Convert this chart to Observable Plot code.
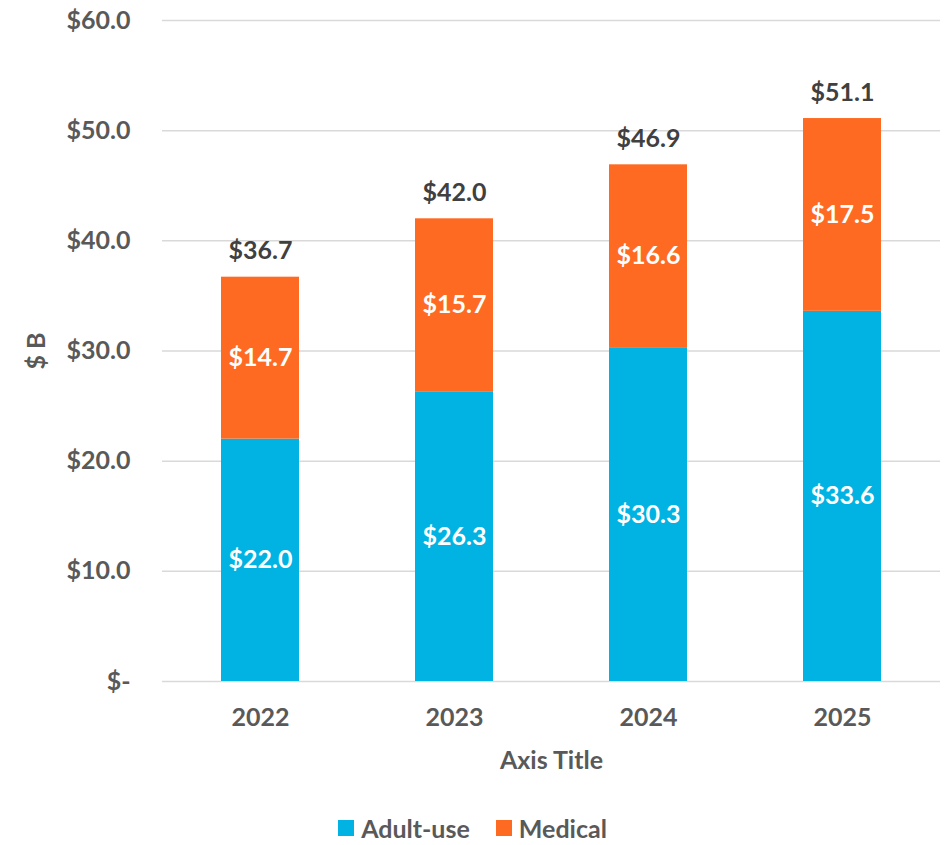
<!DOCTYPE html>
<html>
<head>
<meta charset="utf-8">
<script src="https://cdn.jsdelivr.net/npm/d3@7"></script>
<script src="https://cdn.jsdelivr.net/npm/@observablehq/plot@0.6"></script>
<style>
  html, body { margin: 0; padding: 0; background: #fff; overflow: hidden; }
  #chart { width: 945px; }
  .legend { display: flex; justify-content: center; align-items: center; height: 28px; padding-top: 4px;
    font-family: Lato, "Open Sans", sans-serif; font-weight: bold; font-size: 25px; line-height: 28px; color: #595959; }
  .legend .item { display: flex; align-items: center; margin: 0 13px; }
  .legend .sw { width: 16px; height: 16px; margin-right: 7px; }
</style>
</head>
<body>
<div id="chart"></div>
<script>
const years = ["2022", "2023", "2024", "2025"];
const adultUse = [22.0, 26.3, 30.3, 33.6];
const medical = [14.7, 15.7, 16.6, 17.5];
const totals = [36.7, 42.0, 46.9, 51.1];
const seriesNames = ["Adult-use", "Medical"];
const seriesColors = ["#00B3E3", "#FF6A22"];
const yTicks = [0, 10, 20, 30, 40, 50, 60];

const data = years.flatMap((y, i) => [
  {year: y, series: seriesNames[0], value: adultUse[i]},
  {year: y, series: seriesNames[1], value: medical[i]}
]);
const totalData = years.map((y, i) => ({year: y, total: totals[i]}));

const fmt = v => "$" + v.toFixed(1);

const chart = Plot.plot({
  width: 945,
  height: 810,
  marginLeft: 162,
  marginRight: 5,
  marginTop: 20,
  marginBottom: 129,
  style: {fontFamily: "Lato, 'Open Sans', sans-serif", fontSize: "25px", fontWeight: "bold", color: "#595959", background: "#fff"},
  x: {domain: years, paddingInner: 0.6, paddingOuter: 0.3, label: null},
  y: {domain: [0, 60], label: null},
  color: {domain: seriesNames, range: seriesColors},
  marks: [
    Plot.gridY(yTicks, {stroke: "#d9d9d9", strokeOpacity: 1, strokeWidth: 1.5}),
    Plot.axisY({ticks: yTicks, tickSize: 0, tickPadding: 32, label: null, fontSize: 25,
      tickFormat: d => d === 0 ? "$-" : fmt(d)}),
    Plot.axisX({tickSize: 0, tickPadding: 27, label: null, fontSize: 25}),
    Plot.barY(data, {x: "year", y: "value", fill: "series"}),
    Plot.text(data, Plot.stackY({x: "year", y: "value", z: "series",
      text: d => fmt(d.value), fill: "white", fontSize: 25})),
    Plot.text(totalData, {x: "year", y: "total", text: d => fmt(d.total), dy: -26, fill: "#404040", fontSize: 25}),
    Plot.text(["$ B"], {frameAnchor: "left", textAnchor: "middle", lineAnchor: "middle", dx: -126, rotate: -90, fill: "#595959", fontSize: 25}),
    Plot.text(["Axis Title"], {frameAnchor: "bottom", dy: 87, fill: "#595959", fontSize: 25})
  ]
});
document.getElementById("chart").appendChild(chart);

const legend = document.createElement("div");
legend.className = "legend";
seriesNames.forEach((name, i) => {
  const item = document.createElement("div");
  item.className = "item";
  const sw = document.createElement("span");
  sw.className = "sw";
  sw.style.background = seriesColors[i];
  const label = document.createElement("span");
  label.textContent = name;
  item.appendChild(sw);
  item.appendChild(label);
  legend.appendChild(item);
});
document.getElementById("chart").appendChild(legend);
</script>
</body>
</html>
